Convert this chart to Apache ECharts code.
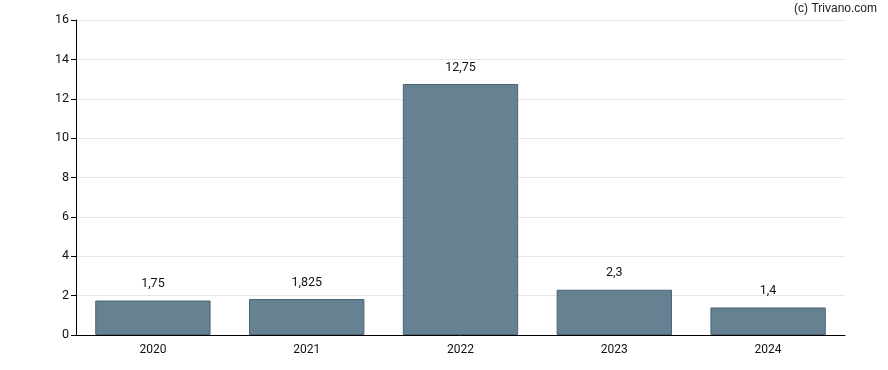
<!DOCTYPE html>
<html><head><meta charset="utf-8">
<script src="https://cdn.jsdelivr.net/npm/echarts@6/dist/echarts.min.js"></script>
<style>html,body{margin:0;padding:0;background:#fff}#c{width:888px;height:370px}</style>
</head><body><div id="c"></div>
<script>
var categories = ['2020','2021','2022','2023','2024'];
var values = [1.75, 1.825, 12.75, 2.3, 1.4];
var chart = echarts.init(document.getElementById('c'));
chart.setOption({
  animation:false,
  graphic:[{type:'text',right:11,top:3,style:{text:'(c) Trivano.com',font:'12px "Liberation Sans", Arial, sans-serif',fill:'#222'}}],
  grid:{left:76,right:43,top:20,bottom:35},
  xAxis:{type:'category',data:categories,
    axisLine:{lineStyle:{color:'#000',width:1}},
    axisTick:{alignWithLabel:true,length:5,lineStyle:{color:'#000'}},
    axisLabel:{color:'#111',fontFamily:'Roboto',fontSize:12,margin:9}},
  yAxis:{type:'value',min:0,max:16,interval:2,
    axisLine:{show:true,lineStyle:{color:'#000',width:1}},
    axisTick:{show:true,length:5,lineStyle:{color:'#000'}},
    axisLabel:{color:'#111',fontFamily:'Roboto',fontSize:12.5,margin:7},
    splitLine:{lineStyle:{color:'#e6e6e6',width:1}}},
  series:[{type:'bar',data:values,barWidth:'75%',
    itemStyle:{color:'rgba(85,115,134,0.9)',borderColor:'#4a6578',borderWidth:1},
    label:{show:true,position:'top',distance:10,color:'#111',fontFamily:'Roboto',fontSize:12.5,
      formatter:function(p){return String(p.value).replace('.',',');}}}]
});
</script></body></html>
